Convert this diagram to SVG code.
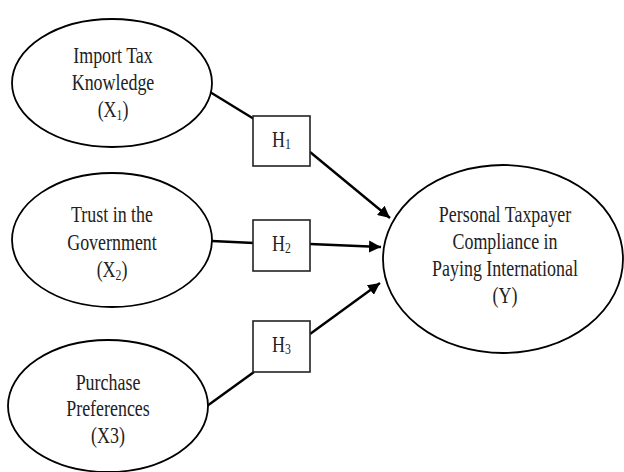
<svg xmlns="http://www.w3.org/2000/svg" width="624" height="472" viewBox="0 0 624 472">
<defs>
<marker id="ah" viewBox="0 0 10 10" refX="10" refY="5" markerWidth="5" markerHeight="5" orient="auto" markerUnits="strokeWidth">
<path d="M0,0 L10,5 L0,10 z" fill="#000"/>
</marker>
<style>
.ell{fill:#fff;stroke:#000;stroke-width:1.8}
.box{fill:#fff;stroke:#222;stroke-width:1.6}
.t{font-family:'Liberation Serif',serif;font-size:23px;fill:#222;text-anchor:middle}
.sub{font-size:15px}
.con{stroke:#000;stroke-width:2.4;fill:none}
</style>
</defs>
<rect width="624" height="472" fill="#fff"/>
<g id="connectors">
<line class="con" x1="210" y1="92" x2="254" y2="119"/>
<line class="con" x1="310" y1="152" x2="390" y2="218" marker-end="url(#ah)"/>
<line class="con" x1="212" y1="241" x2="254" y2="243"/>
<line class="con" x1="310" y1="244" x2="381" y2="247" marker-end="url(#ah)"/>
<line class="con" x1="207" y1="406" x2="254" y2="372"/>
<line class="con" x1="310" y1="334" x2="380" y2="283" marker-end="url(#ah)"/>
</g>
<g id="x1">
<ellipse class="ell" cx="112" cy="83" rx="100" ry="64"/>
<g transform="translate(113,0) scale(0.78,1)">
<text class="t" x="0" y="63">Import Tax</text>
<text class="t" x="0" y="90">Knowledge</text>
<text class="t" x="0" y="117">(X<tspan class="sub" dy="3">1</tspan><tspan dy="-3">)</tspan></text>
</g>
</g>
<g id="x2">
<ellipse class="ell" cx="112" cy="240" rx="100" ry="67"/>
<g transform="translate(112,0) scale(0.78,1)">
<text class="t" x="0" y="222">Trust in the</text>
<text class="t" x="0" y="250">Government</text>
<text class="t" x="0" y="277">(X<tspan class="sub" dy="3">2</tspan><tspan dy="-3">)</tspan></text>
</g>
</g>
<g id="x3">
<ellipse class="ell" cx="108" cy="406" rx="100" ry="66"/>
<g transform="translate(108,0) scale(0.78,1)">
<text class="t" x="0" y="390">Purchase</text>
<text class="t" x="0" y="416">Preferences</text>
<text class="t" x="0" y="443">(X3)</text>
</g>
</g>
<g id="h1">
<rect class="box" x="253" y="116" width="57" height="50"/>
<g transform="translate(281.5,0) scale(0.78,1)">
<text class="t" x="0" y="147">H<tspan class="sub" dy="2">1</tspan></text>
</g>
</g>
<g id="h2">
<rect class="box" x="253" y="220" width="57" height="51"/>
<g transform="translate(281.5,0) scale(0.78,1)">
<text class="t" x="0" y="251">H<tspan class="sub" dy="2">2</tspan></text>
</g>
</g>
<g id="h3">
<rect class="box" x="253" y="321" width="57" height="51"/>
<g transform="translate(281.5,0) scale(0.78,1)">
<text class="t" x="0" y="352">H<tspan class="sub" dy="2">3</tspan></text>
</g>
</g>
<g id="y">
<ellipse class="ell" cx="503" cy="259" rx="120" ry="94"/>
<g transform="translate(505,0) scale(0.78,1)">
<text class="t" x="0" y="222">Personal Taxpayer</text>
<text class="t" x="0" y="249">Compliance in</text>
<text class="t" x="0" y="276">Paying International</text>
<text class="t" x="0" y="303">(Y)</text>
</g>
</g>
</svg>
